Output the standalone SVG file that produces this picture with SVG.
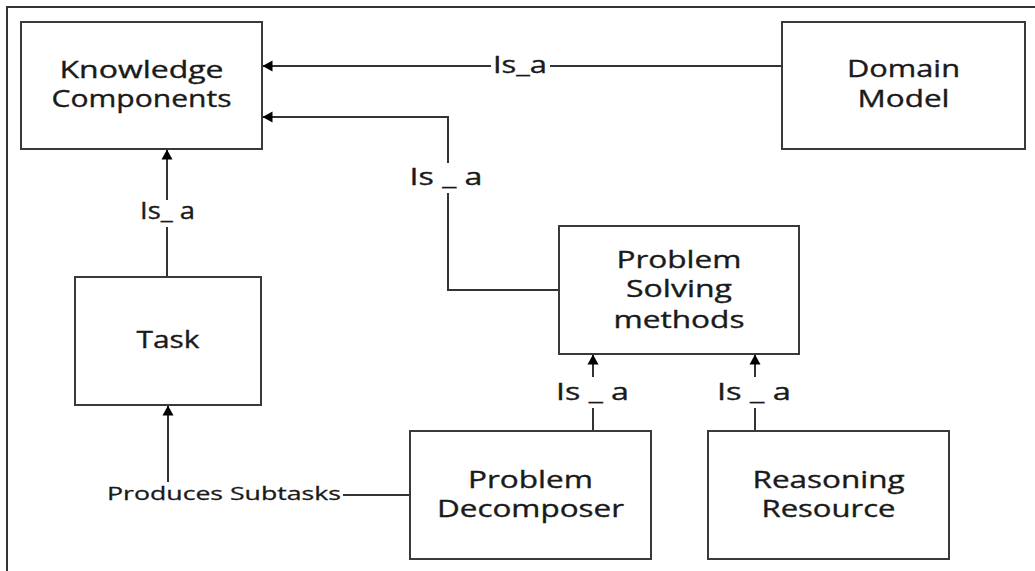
<svg xmlns="http://www.w3.org/2000/svg" width="1035" height="571" viewBox="0 0 1035 571">
<style>
.box{fill:#fff;stroke:#3a3a3a;stroke-width:2}
.lbl{font-family:"Open Sans","Liberation Sans",sans-serif;font-size:23px;fill:#1a1a1a;text-anchor:middle;stroke:#1a1a1a;stroke-width:0.35}
.small{font-size:19px;stroke-width:0.3}
.ln{fill:none;stroke:#333;stroke-width:2}
</style>
<defs>
<marker id="ah" viewBox="0 0 10 11" markerUnits="userSpaceOnUse" markerWidth="10" markerHeight="11" refX="9.5" refY="5.5" orient="auto" overflow="visible">
<path d="M0,0 L10,5.5 L0,11 z" fill="#000"/>
</marker>
</defs>
<rect x="0" y="0" width="1035" height="571" fill="#fff"/>
<path d="M7,571 V7 H1035" fill="none" stroke="#333" stroke-width="2"/>
<g id="connectors">
<path class="ln" d="M782,66 H550"/>
<path class="ln" d="M491,66 H263" marker-end="url(#ah)"/>
<text class="lbl" x="520" y="73" textLength="54" lengthAdjust="spacingAndGlyphs">Is_a</text>
<path class="ln" d="M559,290 H448 V193"/>
<path class="ln" d="M448,163 V117 H263" marker-end="url(#ah)"/>
<text class="lbl" x="446" y="185" textLength="73" lengthAdjust="spacingAndGlyphs">Is _ a</text>
<path class="ln" d="M167,277 V227"/>
<path class="ln" d="M167,200 V150" marker-end="url(#ah)"/>
<text class="lbl" x="167.5" y="219" textLength="55" lengthAdjust="spacingAndGlyphs">Is_ a</text>
<path class="ln" d="M593,431 V408"/>
<path class="ln" d="M593,377 V355" marker-end="url(#ah)"/>
<text class="lbl" x="592.5" y="400" textLength="73" lengthAdjust="spacingAndGlyphs">Is _ a</text>
<path class="ln" d="M755,431 V408"/>
<path class="ln" d="M755,377 V355" marker-end="url(#ah)"/>
<text class="lbl" x="754" y="400" textLength="74" lengthAdjust="spacingAndGlyphs">Is _ a</text>
<path class="ln" d="M410,495 H343"/>
<path class="ln" d="M168,482 V406" marker-end="url(#ah)"/>
<text class="lbl small" x="224" y="500" textLength="234" lengthAdjust="spacingAndGlyphs">Produces Subtasks</text>
</g>
<g id="knowledge-components">
<rect class="box" x="21" y="22" width="241" height="127"/>
<text class="lbl" x="141.5" y="78" textLength="164" lengthAdjust="spacingAndGlyphs">Knowledge</text>
<text class="lbl" x="141.5" y="107" textLength="180" lengthAdjust="spacingAndGlyphs">Components</text>
</g>
<g id="domain-model">
<rect class="box" x="782" y="22" width="243" height="127"/>
<text class="lbl" x="903.5" y="77" textLength="113" lengthAdjust="spacingAndGlyphs">Domain</text>
<text class="lbl" x="903.5" y="107" textLength="92" lengthAdjust="spacingAndGlyphs">Model</text>
</g>
<g id="problem-solving-methods">
<rect class="box" x="559" y="226" width="240" height="128"/>
<text class="lbl" x="679" y="268" textLength="125" lengthAdjust="spacingAndGlyphs">Problem</text>
<text class="lbl" x="679" y="297" textLength="106" lengthAdjust="spacingAndGlyphs">Solving</text>
<text class="lbl" x="679" y="328" textLength="131" lengthAdjust="spacingAndGlyphs">methods</text>
</g>
<g id="task">
<rect class="box" x="75" y="277" width="186" height="128"/>
<text class="lbl" x="168" y="348" textLength="63" lengthAdjust="spacingAndGlyphs">Task</text>
</g>
<g id="problem-decomposer">
<rect class="box" x="410" y="431" width="241" height="128"/>
<text class="lbl" x="530.5" y="488" textLength="125" lengthAdjust="spacingAndGlyphs">Problem</text>
<text class="lbl" x="530.5" y="517" textLength="187" lengthAdjust="spacingAndGlyphs">Decomposer</text>
</g>
<g id="reasoning-resource">
<rect class="box" x="708" y="431" width="241" height="128"/>
<text class="lbl" x="828.5" y="488" textLength="152" lengthAdjust="spacingAndGlyphs">Reasoning</text>
<text class="lbl" x="828.5" y="517" textLength="134" lengthAdjust="spacingAndGlyphs">Resource</text>
</g>
</svg>
